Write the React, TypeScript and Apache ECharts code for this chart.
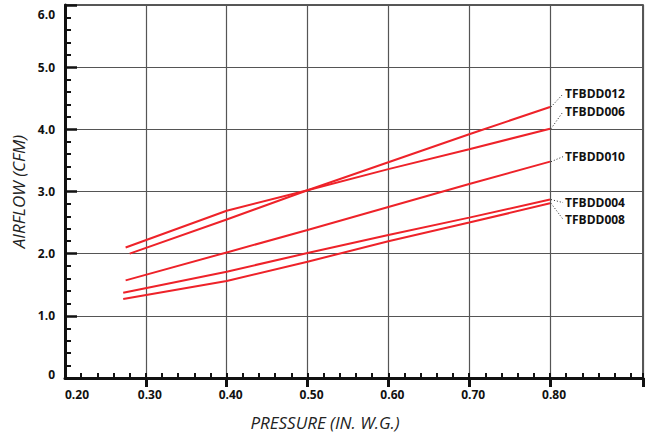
import React, { useEffect, useRef } from "react";
import * as echarts from "echarts";

// ---- data ----
const seriesNames = ["TFBDD012", "TFBDD006", "TFBDD010", "TFBDD004", "TFBDD008"];
const tfbdd012 = [[0.275, 2.1], [0.4, 2.69], [0.5, 3.02], [0.6, 3.47], [0.7, 3.92], [0.8, 4.36]];
const tfbdd006 = [[0.28, 2.0], [0.4, 2.55], [0.5, 3.02], [0.6, 3.36], [0.7, 3.68], [0.8, 4.01]];
const tfbdd010 = [[0.275, 1.57], [0.4, 2.02], [0.5, 2.38], [0.6, 2.75], [0.7, 3.12], [0.8, 3.48]];
const tfbdd004 = [[0.272, 1.37], [0.4, 1.71], [0.5, 2.01], [0.6, 2.3], [0.7, 2.58], [0.8, 2.87]];
const tfbdd008 = [[0.272, 1.27], [0.4, 1.56], [0.5, 1.87], [0.6, 2.2], [0.7, 2.5], [0.8, 2.81]];
const seriesData = [tfbdd012, tfbdd006, tfbdd010, tfbdd004, tfbdd008];

const xMin = 0.2;
const xMax = 0.915;
const xMajorTicks = [0.3, 0.4, 0.5, 0.6, 0.7, 0.8];
const xLabelValues = [0.2, 0.3, 0.4, 0.5, 0.6, 0.7, 0.8];
const yMin = 0;
const yMax = 6;

// label layout (vertical offsets of the end labels, px)
const labelDy = [-13, -17, -5, 3, 16];

const RED = "#ee2229";
const FONT = "'Open Sans', 'Noto Sans', sans-serif";

export default function App() {
  const ref = useRef<HTMLDivElement>(null);
  useEffect(() => {
    if (!ref.current) return;
    const chart = echarts.init(ref.current, undefined, { renderer: "svg" });
    const option: any = {
      animation: false,
      backgroundColor: "#ffffff",
      grid: {
        left: 65,
        right: 4,
        top: 5,
        bottom: 57,
        containLabel: false,
        outerBoundsMode: "none",
        show: true,
        borderColor: "#222",
        borderWidth: 1.5,
        backgroundColor: "transparent",
      },
      xAxis: [
        {
          type: "value",
          min: xMin,
          max: xMax,
          interval: 0.1,
          position: "bottom",
          name: "PRESSURE (IN. W.G.)",
          nameLocation: "middle",
          nameGap: 36,
          nameTextStyle: {
            fontFamily: FONT,
            fontStyle: "italic",
            fontSize: 17,
            color: "#222",
            padding: [0, 58, 0, 0],
          },
          axisLine: { show: true, onZero: false, lineStyle: { color: "#111", width: 3 } },
          axisTick: {
            show: true,
            inside: false,
            length: 9,
            customValues: [...xMajorTicks, xMax],
            lineStyle: { color: "#111", width: 3 },
          },
          minorTick: { show: false },
          axisLabel: {
            show: true,
            customValues: xLabelValues,
            margin: 10,
            fontFamily: FONT,
            fontWeight: "bold",
            fontSize: 12,
            color: "#111",
            padding: [0, 0, 0, 8],
            formatter: (v: number) =>
              Math.abs(v - 0.2) < 1e-6 ? "{f|" + v.toFixed(2) + "}" : v.toFixed(2),
            rich: {
              f: {
                fontFamily: FONT,
                fontWeight: "bold",
                fontSize: 12,
                color: "#111",
                padding: [0, 0, 0, 16],
              },
            },
          },
          splitLine: { show: true, lineStyle: { color: "#555", width: 1.2 } },
        },
        {
          type: "value",
          min: xMin,
          max: xMax,
          interval: 0.02,
          position: "bottom",
          axisLine: { show: false },
          axisTick: { show: true, inside: true, length: 5, lineStyle: { color: "#111", width: 2 } },
          axisLabel: { show: false },
          splitLine: { show: false },
        },
      ],
      yAxis: {
        type: "value",
        min: yMin,
        max: yMax,
        interval: 1,
        name: "AIRFLOW (CFM)",
        nameLocation: "middle",
        nameGap: 36,
        nameTextStyle: {
          fontFamily: FONT,
          fontStyle: "italic",
          fontSize: 17,
          color: "#222",
        },
        axisLine: { show: true, onZero: false, lineStyle: { color: "#111", width: 3 } },
        axisTick: { show: true, inside: true, length: 12, lineStyle: { color: "#111", width: 2.5 } },
        minorTick: { show: true, splitNumber: 5, length: 6, lineStyle: { color: "#111", width: 2 } },
        axisLabel: {
          margin: 10,
          fontFamily: FONT,
          fontWeight: "bold",
          fontSize: 12,
          color: "#111",
          formatter: (v: number) => {
            if (v === 0) return "{b|0}";
            if (v === 6) return "{t|6.0}";
            return v.toFixed(1);
          },
          rich: {
            t: { fontFamily: FONT, fontWeight: "bold", fontSize: 12, color: "#111", padding: [18, 0, 0, 0] },
            b: { fontFamily: FONT, fontWeight: "bold", fontSize: 12, color: "#111", padding: [0, 0, 8, 0] },
          },
        },
        splitLine: { show: true, lineStyle: { color: "#555", width: 1.2 } },
      },
      series: seriesNames.map((name, i) => ({
        name,
        type: "line",
        xAxisIndex: 0,
        yAxisIndex: 0,
        data: seriesData[i],
        showSymbol: false,
        symbol: "none",
        z: 5,
        lineStyle: { color: RED, width: 2 },
      })),
    };
    chart.setOption(option);

    const graphics: any[] = [];
    seriesNames.forEach((name, i) => {
      const d = seriesData[i];
      const last = d[d.length - 1];
      const p = chart.convertToPixel({ xAxisIndex: 0, yAxisIndex: 0 }, last) as number[];
      const lx = p[0] + 15;
      const ly = p[1] + labelDy[i];
      graphics.push({
        type: "line",
        silent: true,
        z: 10,
        shape: { x1: p[0] + 1, y1: p[1], x2: lx - 2, y2: ly },
        style: { stroke: "#222", lineWidth: 1, lineDash: [1, 2] },
      });
      graphics.push({
        type: "text",
        silent: true,
        z: 10,
        x: lx,
        y: ly,
        style: {
          text: name,
          fill: "#111",
          fontFamily: FONT,
          fontWeight: "bold",
          fontSize: 12,
          align: "left",
          verticalAlign: "middle",
        },
      });
    });
    chart.setOption({ graphic: graphics });

    return () => chart.dispose();
  }, []);
  return (
    <div
      ref={ref}
      style={{ position: "fixed", left: 0, top: 0, width: 647, height: 435, background: "#fff" }}
    />
  );
}
